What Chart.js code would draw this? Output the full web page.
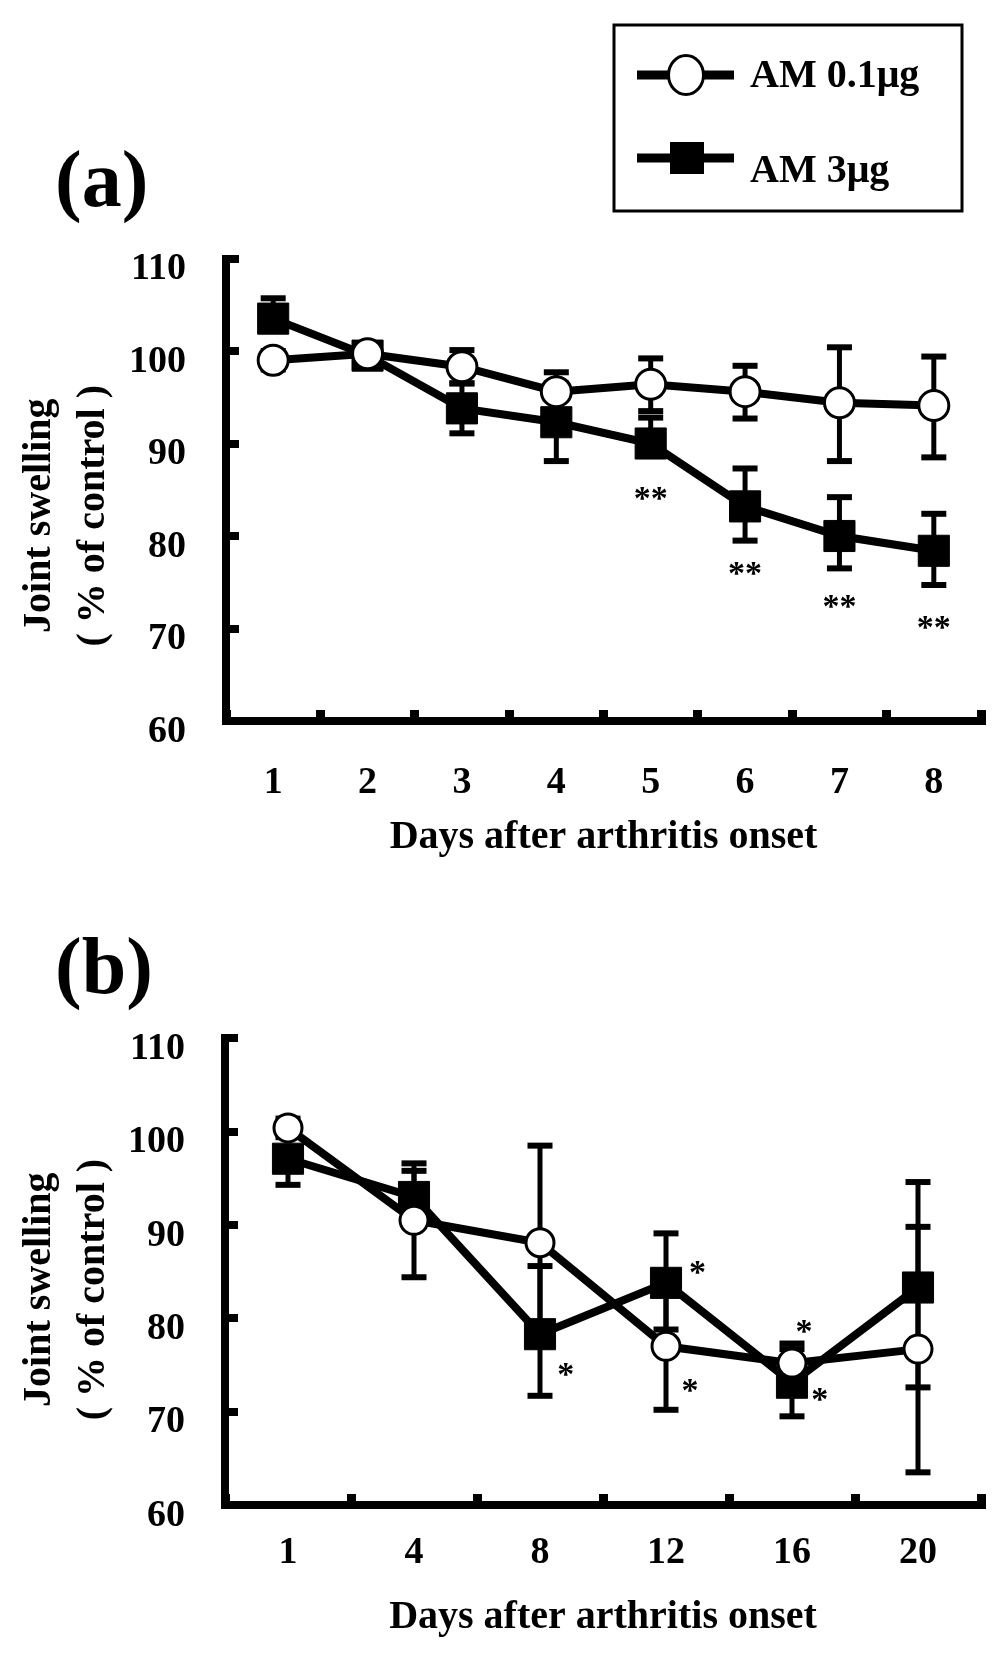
<!DOCTYPE html>
<html>
<head>
<meta charset="utf-8">
<script src="https://cdn.jsdelivr.net/npm/chart.js@4/dist/chart.umd.min.js"></script>
<style>
html,body{margin:0;padding:0;background:#fff;}
#wrap{position:relative;width:1004px;height:1660px;background:#fff;}
canvas{position:absolute;left:0;}
</style>
</head>
<body>
<div id="wrap">
<canvas id="ca" width="1004" height="880" style="top:0px"></canvas>
<canvas id="cb" width="1004" height="780" style="top:880px"></canvas>
</div>
<script>
// ---------- data ----------
const seriesNames = ['AM 0.1μg', 'AM 3μg'];
const yTicks = [60, 70, 80, 90, 100, 110];
const xTitle = 'Days after arthritis onset';
const yTitleLines = ['Joint swelling', '( % of control )'];

// Panel (a)
const daysA = ['1', '2', '3', '4', '5', '6', '7', '8'];
const lowA = [99.0, 99.7, 98.3, 95.6, 96.4, 95.6, 94.4, 94.1];
const lowAUp = [1.0, 1.0, 1.8, 2.1, 2.8, 2.8, 6.0, 5.3];
const lowADown = [1.0, 1.0, 1.8, 2.1, 2.9, 2.9, 6.3, 5.6];
const highA = [103.5, 99.5, 93.8, 92.3, 90.0, 83.2, 80.0, 78.4];
const highAUp = [2.2, 1.0, 2.7, 4.2, 2.8, 4.1, 4.2, 4.0];
const highADown = [0, 1.0, 2.7, 4.2, 0, 3.7, 3.5, 3.7];
const starIdxA = [4, 5, 6, 7];
const starValA = [84.6, 76.5, 72.9, 70.7];
const starTxtA = ['**', '**', '**', '**'];
const starDxA = [0, 0, 0, 0];

// Panel (b)
const daysB = ['1', '4', '8', '12', '16', '20'];
const lowB = [100.4, 90.5, 88.1, 77.0, 75.2, 76.7];
const lowBUp = [1.0, 6.1, 10.4, 6.8, 2.1, 13.1];
const lowBDown = [1.0, 6.1, 10.4, 6.8, 2.1, 13.2];
const highB = [97.1, 93.0, 78.3, 83.8, 73.1, 83.3];
const highBUp = [1.0, 2.8, 7.3, 5.3, 3.6, 11.3];
const highBDown = [2.8, 2.8, 6.6, 5.0, 3.6, 10.7];
const starIdxB = [2, 3, 3, 4, 4];
const starValB = [74.5, 85.4, 72.8, 79.1, 71.8];
const starTxtB = ['*', '*', '*', '*', '*'];
const starDxB = [0.205, 0.25, 0.19, 0.095, 0.22];

// ---------- drawing ----------
const FONT = "'Liberation Serif', 'Times New Roman', Times, serif";

function inkText(ctx, t, x, yc, font, align) {
  ctx.font = font;
  ctx.textAlign = align;
  ctx.textBaseline = 'alphabetic';
  const m = ctx.measureText(t);
  ctx.fillText(t, x, yc + (m.actualBoundingBoxAscent - m.actualBoundingBoxDescent) / 2);
}

const decor = {
  id: 'decor',
  beforeDatasetsDraw(chart, args, o) {
    const ctx = chart.ctx, ys = chart.scales.y;
    ctx.save();
    ctx.strokeStyle = '#000';
    ctx.lineCap = 'butt';
    o.errors.forEach((e, di) => {
      const meta = chart.getDatasetMeta(di);
      const vals = chart.data.datasets[di].data;
      meta.data.forEach((pt, j) => {
        const x = pt.x;
        const y0 = ys.getPixelForValue(vals[j]);
        [[e.up[j], 1], [e.down[j], -1]].forEach(([d, s]) => {
          if (!d) return;
          const y1 = ys.getPixelForValue(vals[j] + s * d);
          ctx.lineWidth = 5;
          ctx.beginPath(); ctx.moveTo(x, y0); ctx.lineTo(x, y1); ctx.stroke();
          ctx.lineWidth = 6;
          ctx.beginPath(); ctx.moveTo(x - 12.5, y1); ctx.lineTo(x + 12.5, y1); ctx.stroke();
        });
      });
    });
    ctx.restore();
  },
  afterDatasetsDraw(chart, args, o) {
    const ctx = chart.ctx, xs = chart.scales.x, ys = chart.scales.y;
    const cw = xs.getPixelForValue(1) - xs.getPixelForValue(0);
    ctx.save();
    ctx.fillStyle = '#000';
    o.starIdx.forEach((ix, k) => {
      const x = xs.getPixelForValue(ix) + o.starDx[k] * cw;
      const y = ys.getPixelForValue(o.starVal[k]);
      inkText(ctx, o.starTxt[k], x, y, 'bold 34px ' + FONT, 'center');
    });
    ctx.restore();
  },
  afterDraw(chart, args, o) {
    const ctx = chart.ctx, ca = chart.chartArea;
    ctx.save();
    ctx.fillStyle = '#000';
    // panel label
    inkText(ctx, o.panel, 55, o.panelY, 'bold 80px ' + FONT, 'left');
    // y axis title (two rotated lines)
    const yc = (ca.top + ca.bottom) / 2 + o.yTitleShift;
    [40, 94].forEach((x, k) => {
      ctx.save();
      ctx.translate(x, yc);
      ctx.rotate(-Math.PI / 2);
      ctx.font = 'bold 40px ' + FONT;
      ctx.textAlign = 'center';
      ctx.textBaseline = 'middle';
      ctx.fillText(yTitleLines[k], 0, 0);
      ctx.restore();
    });
    // legend
    if (o.legend) {
      const ds = chart.data.datasets;
      ctx.lineWidth = 3;
      ctx.strokeStyle = '#000';
      ctx.strokeRect(614, 25, 348, 186);
      const rows = [{y: 75, base: 87}, {y: 158, base: 182}];
      rows.forEach((r, k) => {
        ctx.lineWidth = 9;
        ctx.beginPath(); ctx.moveTo(637, r.y); ctx.lineTo(734, r.y); ctx.stroke();
        if (ds[k].pointStyle === 'circle') {
          ctx.beginPath();
          ctx.ellipse(686, r.y, 17.5, 19.5, 0, 0, Math.PI * 2);
          ctx.fillStyle = '#fff'; ctx.fill();
          ctx.lineWidth = 3; ctx.stroke();
        } else {
          ctx.fillStyle = '#000';
          ctx.fillRect(670, r.y - 16, 34, 32);
        }
        ctx.fillStyle = '#000';
        ctx.font = 'bold 40px ' + FONT;
        ctx.textAlign = 'left';
        ctx.textBaseline = 'alphabetic';
        ctx.fillText(ds[k].label, 750, r.base);
      });
    }
    ctx.restore();
  }
};

function makeChart(id, c) {
  return new Chart(document.getElementById(id), {
    type: 'line',
    data: {
      labels: c.labels,
      datasets: [
        { label: seriesNames[0], data: c.low, borderColor: '#000', borderWidth: 8,
          pointStyle: 'circle', pointRadius: c.circleR, pointBackgroundColor: '#fff',
          pointBorderColor: '#000', pointBorderWidth: 3, fill: false, tension: 0 },
        { label: seriesNames[1], data: c.high, borderColor: '#000', borderWidth: 8,
          pointStyle: 'rect', pointRadius: 22, pointBackgroundColor: '#000',
          pointBorderColor: '#000', pointBorderWidth: 1, fill: false, tension: 0 }
      ]
    },
    options: {
      responsive: false,
      animation: false,
      devicePixelRatio: 1,
      layout: { padding: { left: 0, right: 1004 - c.right, top: c.top, bottom: 0 } },
      plugins: {
        legend: { display: false },
        tooltip: { enabled: false },
        decor: c.decor
      },
      scales: {
        x: {
          type: 'category',
          offset: true,
          afterFit(s) { s.height = c.xHeight; },
          grid: { offset: true, drawOnChartArea: false, drawTicks: true, tickLength: -11,
                  tickWidth: 9, lineWidth: 9, color: '#000' },
          border: { display: true, width: 8, color: '#000' },
          ticks: { color: '#000', font: { family: FONT, size: 38, weight: 'bold' },
                   padding: c.xPad, maxRotation: 0, autoSkip: false },
          title: { display: true, text: xTitle, color: '#000',
                   font: { family: FONT, size: 40, weight: 'bold' }, padding: { top: 0, bottom: 18 } }
        },
        y: {
          min: 60, max: 110,
          afterFit(s) { s.width = c.left; },
          afterBuildTicks(s) { s.ticks = yTicks.map(v => ({ value: v })); },
          grid: { drawOnChartArea: false, drawTicks: true, tickLength: -13,
                  tickWidth: 8, lineWidth: 8, color: '#000' },
          border: { display: true, width: 8, color: '#000' },
          ticks: { color: '#000', font: { family: FONT, size: 38, weight: 'bold' },
                   padding: 53, labelOffset: 11 }
        }
      }
    },
    plugins: [decor]
  });
}

makeChart('ca', {
  labels: daysA, low: lowA, high: highA, circleR: 15,
  left: 226, right: 984, top: 258.5, xHeight: 159, xPad: 50,
  decor: {
    errors: [{ up: lowAUp, down: lowADown }, { up: highAUp, down: highADown }],
    starIdx: starIdxA, starVal: starValA, starTxt: starTxtA, starDx: starDxA,
    panel: '(a)', panelY: 187, yTitleShift: 26, legend: true
  }
});

makeChart('cb', {
  labels: daysB, low: lowB, high: highB, circleR: 14,
  left: 225, right: 984, top: 158.3, xHeight: 155, xPad: 36,
  decor: {
    errors: [{ up: lowBUp, down: lowBDown }, { up: highBUp, down: highBDown }],
    starIdx: starIdxB, starVal: starValB, starTxt: starTxtB, starDx: starDxB,
    panel: '(b)', panelY: 94, yTitleShift: 18, legend: false
  }
});
</script>
</body>
</html>
